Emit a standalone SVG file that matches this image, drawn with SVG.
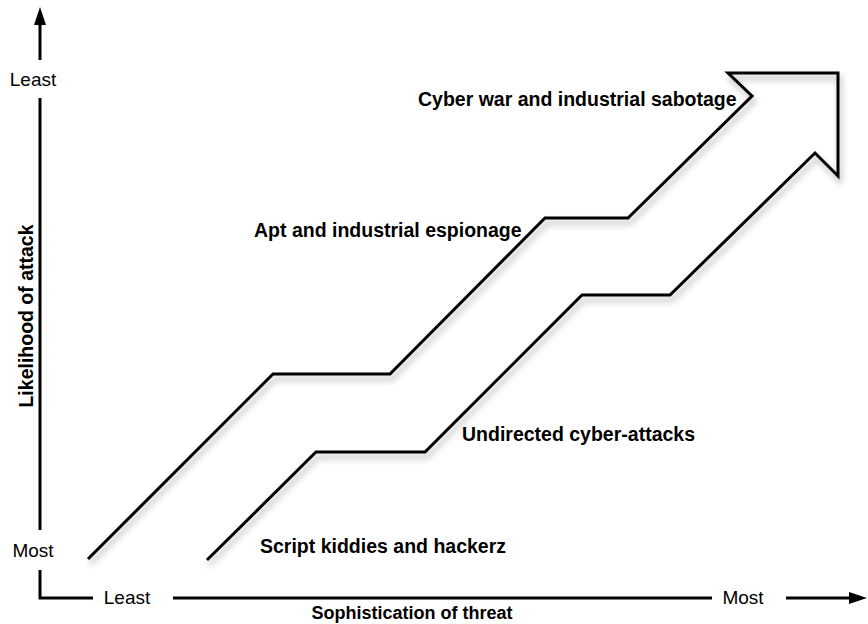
<svg xmlns="http://www.w3.org/2000/svg" width="868" height="624" viewBox="0 0 868 624">
<style>
.ax{stroke:#000;stroke-width:3;fill:none}
.step{stroke:#000;stroke-width:3;fill:none;stroke-linejoin:miter}
.lbl{font-family:"Liberation Sans",Arial,sans-serif;font-size:19px;fill:#000}
.b{font-weight:bold;font-size:19.5px}
</style>
<defs>
<filter id="sh" x="-10%" y="-10%" width="130%" height="130%">
<feDropShadow dx="2" dy="5" stdDeviation="3" flood-color="#000" flood-opacity="0.3"/>
</filter>
</defs>
<g id="axes">
<line class="ax" x1="40" y1="22" x2="40" y2="60"/>
<polygon points="40,7 34,25 46,25" fill="#000"/>
<line class="ax" x1="40" y1="98" x2="40" y2="530"/>
<polyline class="ax" points="40,570 40,598 93,598"/>
<line class="ax" x1="173" y1="598" x2="712" y2="598"/>
<line class="ax" x1="786" y1="598" x2="852" y2="598"/>
<polygon points="867,598 849,592 849,604" fill="#000"/>
<text class="lbl" x="33" y="86" text-anchor="middle">Least</text>
<text class="lbl" x="33" y="557" text-anchor="middle">Most</text>
<text class="lbl" x="127" y="604" text-anchor="middle">Least</text>
<text class="lbl" x="743" y="604" text-anchor="middle">Most</text>
<text class="lbl b" transform="translate(33,316) rotate(-90)" text-anchor="middle">Likelihood of attack</text>
<text class="lbl b" x="412" y="619" text-anchor="middle" style="font-size:18px">Sophistication of threat</text>
</g>
<g id="connectors" filter="url(#sh)">
<path class="step" d="M88,559 L273,374 L390,374 L545,218 L628,218 L752,96 L728,73 L838,73 L838,176 L815,153 L670,295 L582,295 L425,452 L316,452 L207,560"/>
</g>
<g id="labels">
<text class="lbl b" x="418" y="106">Cyber war and industrial sabotage</text>
<text class="lbl b" x="254" y="237">Apt and industrial espionage</text>
<text class="lbl b" x="462" y="441">Undirected cyber-attacks</text>
<text class="lbl b" x="260" y="553">Script kiddies and hackerz</text>
</g>
</svg>
